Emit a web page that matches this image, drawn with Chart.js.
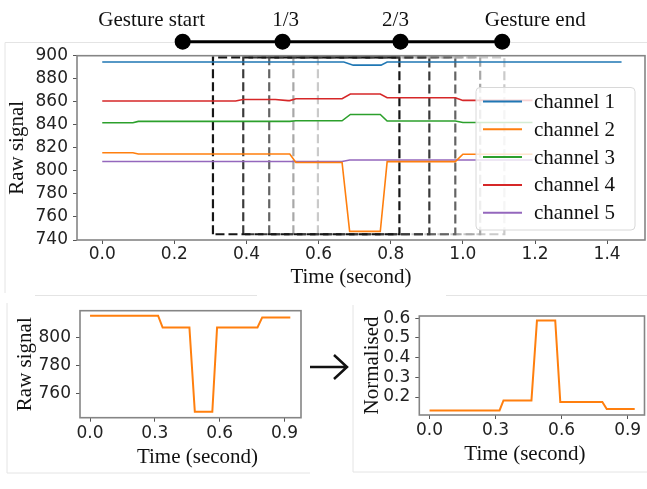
<!DOCTYPE html>
<html>
<head>
<meta charset="utf-8">
<script src="https://cdn.jsdelivr.net/npm/chart.js@4.4.0/dist/chart.umd.min.js"></script>
<style>
  html, body { margin: 0; padding: 0; background: #fff; }
  #wrap { position: relative; width: 647px; height: 489px; overflow: hidden; }
  canvas, svg { position: absolute; }
</style>
</head>
<body>
<div id="wrap">
  <svg width="647" height="489" style="left:0;top:0" fill="none" stroke="#e4e4e4" stroke-width="1">
    <path d="M5 42.5 H647 M5 42.5 V293"/>
    <path d="M35 295.5 H257 M7 303 V473 H310"/>
    <path d="M446 295.5 H647 M353 305 V472 H647"/>
  </svg>
  <canvas id="main" width="647" height="300" style="left:0;top:0"></canvas>
  <canvas id="raw" width="320" height="194" style="left:0;top:295px"></canvas>
  <canvas id="norm" width="317" height="194" style="left:330px;top:295px"></canvas>
  <svg width="647" height="489" style="left:0;top:0" fill="none" stroke="#111" stroke-width="2.5">
    <path d="M310 367 H346 M334 355 L347 367 L334 379"/>
  </svg>
</div>
<script>
// top panel: five channels
const channelNames = ["channel 1", "channel 2", "channel 3", "channel 4", "channel 5"];
const channelColors = ["#1f77b4", "#ff7f0e", "#2ca02c", "#d62728", "#9467bd"];

const ch1Time = [0, 0.67, 0.696, 0.773, 0.79, 1.44];
const ch1Raw = [894.5, 894.5, 891.8, 891.8, 894.5, 894.5];
const ch2Time = [0, 0.085, 0.1, 0.52, 0.537, 0.665, 0.686, 0.771, 0.79, 0.979, 1.0, 1.193];
const ch2Raw = [815.8, 815.8, 814.7, 814.7, 807.3, 807.3, 747.5, 747.5, 808, 808, 814.4, 814.4];
const ch3Time = [0, 0.085, 0.1, 0.52, 0.537, 0.665, 0.688, 0.771, 0.79, 0.979, 1.0, 1.193];
const ch3Raw = [841.8, 841.8, 843, 843, 843.5, 843.5, 849, 849, 843.3, 843.3, 842, 842];
const ch4Time = [0, 0.37, 0.39, 0.48, 0.515, 0.52, 0.537, 0.665, 0.688, 0.771, 0.79, 0.979, 1.0, 1.193];
const ch4Raw = [860.7, 860.7, 862, 862, 861, 861, 862.6, 862.6, 866.8, 866.8, 863.5, 863.5, 861.2, 861.2];
const ch5Time = [0, 0.665, 0.686, 1.193];
const ch5Raw = [808.2, 808.2, 809.4, 809.4];

// sliding windows and gesture marks
const windowStart = [0.307, 0.391, 0.463, 0.530, 0.598];
const windowEnd = [0.824, 0.907, 0.979, 1.048, 1.115];
const windowRange = [745, 898.5];
const gestureMarks = ["Gesture start", "1/3", "2/3", "Gesture end"];
const gestureTime = [0.223, 0.5, 0.827, 1.109];

// bottom panels: channel 2 inside one window
const segTime = [0, 0.315, 0.336, 0.46, 0.485, 0.566, 0.588, 0.775, 0.797, 0.927];
const segRaw = [815.7, 815.7, 807.3, 807.3, 747.3, 747.3, 807.3, 807.3, 814.5, 814.5];
const normTime = [0, 0.318, 0.336, 0.463, 0.488, 0.571, 0.594, 0.785, 0.805, 0.932];
const normValue = [0.132, 0.132, 0.183, 0.183, 0.588, 0.588, 0.175, 0.175, 0.139, 0.139];

// ticks
const mainTimeTicks = [0, 0.2, 0.4, 0.6, 0.8, 1.0, 1.2, 1.4];
const mainRawTicks = [740, 760, 780, 800, 820, 840, 860, 880, 900];
const segTimeTicks = [0, 0.3, 0.6, 0.9];
const segRawTicks = [760, 780, 800];
const normTicks = [0.2, 0.3, 0.4, 0.5, 0.6];

const serif = '"Liberation Serif", "Times New Roman", serif';
const sans = '"DejaVu Sans", sans-serif';

function pts(xs, ys) { return xs.map((x, i) => ({ x: x, y: ys[i] })); }

function axis(ticks, min, max, digits, size, pad, title, titlePad) {
  return {
    type: "linear", min: min, max: max,
    afterBuildTicks: s => { s.ticks = ticks.map(v => ({ value: v })); },
    afterFit: s => { if (s.isHorizontal()) s.height = size; else s.width = size; },
    ticks: { font: { family: sans, size: 17 }, color: "#222", padding: pad,
      autoSkip: false, maxRotation: 0, callback: v => v.toFixed(digits) },
    grid: { drawOnChartArea: false, drawTicks: true, tickLength: 4, color: "#555" },
    border: { display: false },
    title: title ? { display: true, text: title, color: "#111",
      font: { family: serif, size: 21 }, padding: { top: titlePad, bottom: 0 } } : { display: false }
  };
}

const framePlugin = {
  id: "frame",
  afterDatasetsDraw(chart) {
    const a = chart.chartArea, ctx = chart.ctx;
    ctx.save();
    ctx.strokeStyle = "#858585";
    ctx.lineWidth = 1.6;
    ctx.strokeRect(a.left, a.top, a.right - a.left, a.bottom - a.top);
    ctx.restore();
  }
};

function xTitle(text, dx, dy) {
  return {
    id: "xTitle",
    afterDraw(chart) {
      const a = chart.chartArea, ctx = chart.ctx;
      ctx.save();
      ctx.font = "21px " + serif;
      ctx.fillStyle = "#111";
      ctx.textAlign = "center";
      ctx.textBaseline = "middle";
      ctx.fillText(text, (a.left + a.right) / 2 + dx, a.bottom + dy);
      ctx.restore();
    }
  };
}

const legendPlugin = {
  id: "channelLegend",
  afterDatasetsDraw(chart) {
    const ctx = chart.ctx;
    ctx.save();
    ctx.beginPath();
    if (ctx.roundRect) ctx.roundRect(476, 87.5, 159, 142.5, 4); else ctx.rect(476, 87.5, 159, 142.5);
    ctx.fillStyle = "rgba(255,255,255,0.8)";
    ctx.fill();
    ctx.strokeStyle = "#d8d8d8";
    ctx.lineWidth = 1;
    ctx.stroke();
    ctx.font = "21px " + serif;
    ctx.textBaseline = "middle";
    channelNames.forEach((name, i) => {
      const y = 101.5 + i * 27.8;
      ctx.strokeStyle = channelColors[i];
      ctx.lineWidth = 2;
      ctx.beginPath(); ctx.moveTo(483, y); ctx.lineTo(522, y); ctx.stroke();
      ctx.fillStyle = "#111";
      ctx.fillText(name, 534, y + 1);
    });
    ctx.restore();
  }
};

const gesturePlugin = {
  id: "gestureLabels",
  afterDatasetsDraw(chart) {
    const meta = chart.getDatasetMeta(10);
    const ctx = chart.ctx;
    const shift = [-31, 3, -5, 33];
    ctx.save();
    ctx.fillStyle = "#000";
    meta.data.forEach(p => { ctx.beginPath(); ctx.arc(p.x, p.y, 8, 0, Math.PI * 2); ctx.fill(); });
    ctx.font = "21px " + serif;
    ctx.fillStyle = "#111";
    ctx.textAlign = "center";
    ctx.textBaseline = "alphabetic";
    gestureMarks.forEach((t, i) => ctx.fillText(t, meta.data[i].x + shift[i], 26));
    ctx.restore();
  }
};

const channelTimes = [ch1Time, ch2Time, ch3Time, ch4Time, ch5Time];
const channelRaws = [ch1Raw, ch2Raw, ch3Raw, ch4Raw, ch5Raw];
const windowColors = ["#161616", "#3a3a3a", "#646464", "#a8a8a8", "#cacaca"];

const mainSets = channelNames.map((name, i) => ({
  label: name, data: pts(channelTimes[i], channelRaws[i]),
  borderColor: channelColors[i], borderWidth: 1.6, pointRadius: 0
}));
windowStart.forEach((s, i) => {
  const e = windowEnd[i], lo = windowRange[0], hi = windowRange[1];
  mainSets.push({
    label: "window " + (i + 1),
    data: [{ x: s, y: lo }, { x: s, y: hi }, { x: e, y: hi }, { x: e, y: lo }, { x: s, y: lo }],
    borderColor: windowColors[i], borderWidth: 2.2, borderDash: [9, 4], pointRadius: 0
  });
});
mainSets.push({
  label: "gesture", data: gestureTime.map(t => ({ x: t, y: 912.2 })),
  borderColor: "#000", borderWidth: 3, pointRadius: 0, clip: false
});

new Chart("main", {
  type: "line",
  data: { datasets: mainSets },
  options: {
    responsive: false, animation: false, events: [],
    layout: { padding: { top: 55.7, right: 2, left: 0, bottom: 0 } },
    scales: {
      x: axis(mainTimeTicks, -0.07, 1.505, 1, 60, 0),
      y: axis(mainRawTicks, 740, 900, 0, 77, 5, "Raw signal", 5)
    },
    plugins: { legend: { display: false }, tooltip: { enabled: false } }
  },
  plugins: [framePlugin, legendPlugin, gesturePlugin, xTitle("Time (second)", -10, 37)]
});

new Chart("raw", {
  type: "line",
  data: { datasets: [{ label: "channel 2", data: pts(segTime, segRaw),
    borderColor: "#ff7f0e", borderWidth: 2, pointRadius: 0 }] },
  options: {
    responsive: false, animation: false, events: [],
    layout: { padding: { top: 15.7, right: 19, left: 0, bottom: 0 } },
    scales: {
      x: axis(segTimeTicks, -0.0465, 0.9765, 1, 71.3, 2),
      y: axis(segRawTicks, 743.1, 819.3, 0, 80, 5, "Raw signal", 12.4)
    },
    plugins: { legend: { display: false }, tooltip: { enabled: false } }
  },
  plugins: [framePlugin, xTitle("Time (second)", 7, 39.3)]
});

new Chart("norm", {
  type: "line",
  data: { datasets: [{ label: "channel 2", data: pts(normTime, normValue),
    borderColor: "#ff7f0e", borderWidth: 2, pointRadius: 0 }] },
  options: {
    responsive: false, animation: false, events: [],
    layout: { padding: { top: 21, right: 2.5, left: 0, bottom: 0 } },
    scales: {
      x: axis(segTimeTicks, -0.0465, 0.9765, 1, 74, 1),
      y: axis(normTicks, 0.109, 0.611, 1, 89.3, 5, "Normalised", 30)
    },
    plugins: { legend: { display: false }, tooltip: { enabled: false } }
  },
  plugins: [framePlugin, xTitle("Time (second)", -7, 39)]
});
</script>
</body>
</html>
